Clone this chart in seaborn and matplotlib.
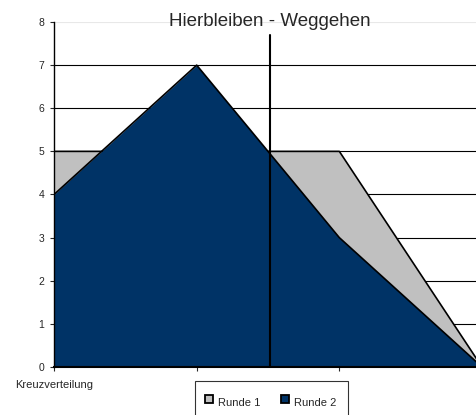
import numpy as np
import pandas as pd
import matplotlib
matplotlib.use("Agg")
import matplotlib.pyplot as plt
import seaborn as sns
from matplotlib.lines import Line2D

# data
categories = ["Kreuzverteilung", "", "", ""]
runde1 = [5, 5, 5, 0]
runde2 = [4, 7, 3, 0]
series_names = ["Runde 1", "Runde 2"]
divider_x = 1.514

sns.set_style("white")
plt.rcParams['font.family'] = ['Liberation Sans', 'DejaVu Sans']

df = pd.DataFrame({"pos": np.arange(len(categories)), "Runde 1": runde1, "Runde 2": runde2})

fig = plt.figure(figsize=(4.76, 4.15), dpi=100)
# plot area runs a little past the right edge of the picture
ax = fig.add_axes([54 / 476, 1 - 367 / 415, 428 / 476, 345 / 415])

colors = {"Runde 1": "#C0C0C0", "Runde 2": "#003366"}

# gridlines behind
for v in range(1, 8):
    ax.axhline(v, color="black", lw=0.8, zorder=0)
ax.axhline(8, color="#e8e8e8", lw=0.8, zorder=0)

for i, name in enumerate(series_names):
    ax.fill_between(df["pos"], 0, df[name], color=colors[name], zorder=1 + i, lw=0)
    sns.lineplot(data=df, x="pos", y=name, color="black", lw=1.2, ax=ax, zorder=1.5 + i)

ax.plot([divider_x, divider_x], [0, 7.7], color="black", lw=1.5, zorder=5)

ax.set_xlim(0, 3)
ax.set_ylim(0, 8)
ax.set_xticks(df["pos"])
ax.set_xticklabels(categories, fontsize=8)
ax.set_yticks(range(0, 9))
ax.tick_params(axis="y", labelsize=7.5, length=3, direction="out", left=True, pad=4)
ax.tick_params(axis="x", length=3, direction="out", bottom=True, pad=6)
ax.set_xlabel("")
ax.set_ylabel("")
for s in ["top", "right"]:
    ax.spines[s].set_visible(False)
ax.spines["left"].set_color("black")
ax.spines["bottom"].set_color("black")
ax.spines["left"].set_linewidth(1.0)
ax.spines["bottom"].set_linewidth(1.5)

fig.text(270 / 476, 1 - 22 / 415, "Hierbleiben - Weggehen", ha="center", va="center", fontsize=13.5)

handles = [Line2D([], [], marker="s", markersize=6, markerfacecolor=colors[n],
                  markeredgecolor="black", markeredgewidth=1.3, linestyle="none", label=n)
           for n in series_names]
leg = fig.legend(handles=handles, loc="upper left", bbox_to_anchor=(195 / 476, 1 - 381 / 415),
                 ncol=2, fontsize=8, frameon=True, fancybox=False, handlelength=0.6,
                 handleheight=2.4, handletextpad=0.5, columnspacing=1.9,
                 borderpad=1.0, borderaxespad=0)
leg.get_frame().set_edgecolor("black")
leg.get_frame().set_linewidth(0.8)

fig.savefig("out.png", dpi=100)
